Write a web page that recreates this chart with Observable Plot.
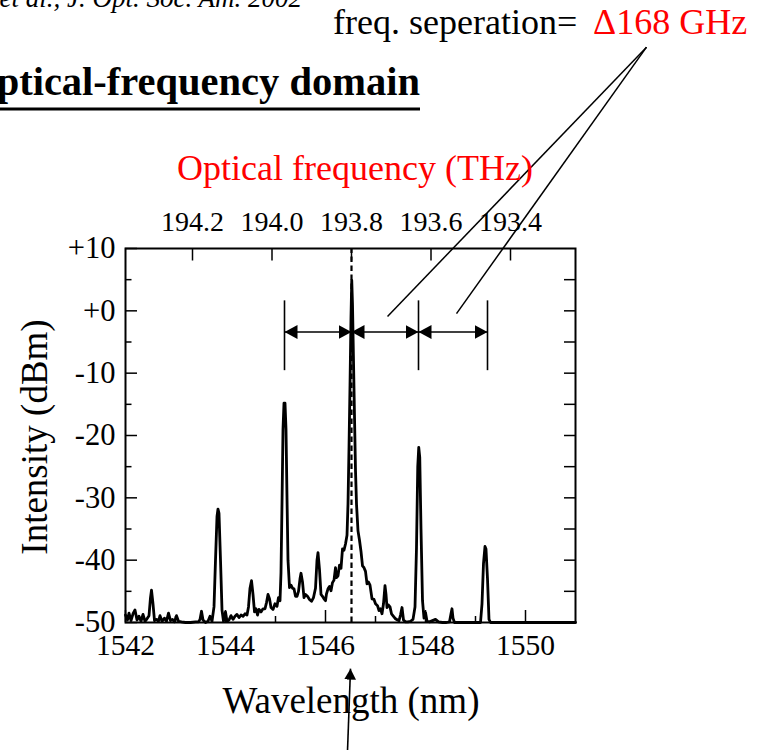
<!DOCTYPE html>
<html><head><meta charset="utf-8">
<script src="https://cdn.jsdelivr.net/npm/d3@7"></script>
<script src="https://cdn.jsdelivr.net/npm/@observablehq/plot@0.6"></script>
<style>body{margin:0;background:#fff;overflow:hidden}svg{display:block}</style>
</head><body><div id="chart"></div>
<script>
// Spectrum: wavelength (nm) and intensity (dBm)
const wavelength = [1542.00,1542.04,1542.07,1542.11,1542.15,1542.19,1542.23,1542.27,1542.31,1542.35,1542.39,1542.43,1542.47,1542.50,1542.52,1542.55,1542.58,1542.62,1542.66,1542.69,1542.73,1542.78,1542.82,1542.86,1542.90,1542.94,1542.98,1543.02,1543.06,1543.12,1543.20,1543.30,1543.40,1543.46,1543.49,1543.52,1543.55,1543.60,1543.65,1543.69,1543.73,1543.77,1543.80,1543.83,1543.85,1543.87,1543.90,1543.93,1543.96,1544.00,1544.03,1544.07,1544.11,1544.15,1544.19,1544.23,1544.27,1544.31,1544.35,1544.39,1544.43,1544.46,1544.49,1544.52,1544.55,1544.58,1544.61,1544.64,1544.67,1544.71,1544.75,1544.79,1544.82,1544.85,1544.88,1544.91,1544.95,1544.99,1545.03,1545.06,1545.09,1545.11,1545.13,1545.15,1545.17,1545.19,1545.21,1545.23,1545.25,1545.28,1545.31,1545.34,1545.37,1545.40,1545.43,1545.46,1545.49,1545.51,1545.54,1545.57,1545.60,1545.64,1545.68,1545.72,1545.76,1545.80,1545.83,1545.85,1545.88,1545.91,1545.94,1545.97,1546.00,1546.02,1546.05,1546.08,1546.11,1546.14,1546.17,1546.20,1546.22,1546.25,1546.28,1546.31,1546.34,1546.37,1546.40,1546.43,1546.45,1546.47,1546.49,1546.51,1546.525,1546.54,1546.56,1546.58,1546.60,1546.62,1546.65,1546.68,1546.71,1546.74,1546.77,1546.80,1546.83,1546.86,1546.89,1546.93,1546.97,1547.00,1547.04,1547.07,1547.10,1547.13,1547.16,1547.19,1547.21,1547.23,1547.26,1547.29,1547.32,1547.36,1547.40,1547.44,1547.47,1547.50,1547.53,1547.56,1547.60,1547.65,1547.70,1547.75,1547.79,1547.82,1547.845,1547.865,1547.885,1547.91,1547.94,1547.97,1548.00,1548.03,1548.08,1548.14,1548.20,1548.26,1548.34,1548.42,1548.48,1548.51,1548.53,1548.55,1548.58,1548.70,1548.85,1549.00,1549.10,1549.13,1549.16,1549.19,1549.21,1549.24,1549.27,1549.30,1549.60,1550.00,1550.50,1551.00];
const intensity = [-48.8,-49.6,-48.5,-49.7,-48.6,-48.0,-49.6,-49.0,-49.8,-48.7,-49.8,-49.4,-48.9,-46.0,-44.8,-47.0,-49.7,-49.5,-49.8,-48.9,-49.8,-49.3,-49.8,-48.5,-49.7,-49.5,-49.9,-48.9,-49.8,-49.9,-50,-50,-49.9,-49.9,-49.5,-48.2,-49.6,-50,-49.8,-49.0,-49.8,-47.5,-40.0,-33.0,-31.8,-32.5,-40.0,-48.0,-49.8,-48.3,-49.8,-49.6,-48.9,-49.5,-49.0,-48.7,-49.2,-48.8,-49.0,-48.6,-48.8,-47.5,-44.5,-43.3,-45.5,-48.3,-47.8,-48.8,-47.9,-48.3,-47.8,-47.8,-46.8,-45.5,-46.2,-47.6,-47.9,-47.0,-47.4,-46.0,-46.5,-42.0,-31.0,-19.0,-14.8,-14.8,-19.0,-30.0,-40.0,-44.4,-44.0,-44.5,-44.6,-45.8,-45.8,-45.0,-43.0,-42.1,-43.5,-46.0,-45.5,-45.8,-46.3,-46.6,-46.0,-44.5,-40.0,-38.8,-41.5,-45.5,-45.8,-46.2,-46.5,-45.4,-44.6,-44.2,-44.9,-43.6,-43.2,-41.2,-42.8,-42.5,-40.8,-41.3,-38.2,-38.4,-37.4,-36.0,-31.0,-22.0,-12.0,-1.0,4.9,1.0,-8.0,-17.0,-25.6,-31.0,-35.3,-36.8,-38.6,-40.9,-41.2,-41.8,-43.8,-43.5,-44.0,-46.2,-46.3,-47.0,-47.3,-48.1,-47.8,-48.6,-47.0,-44.1,-45.5,-47.6,-47.2,-47.5,-48.6,-49.0,-49.4,-49.6,-49.7,-48.8,-47.6,-49.6,-49.9,-49.9,-49.8,-49.5,-47.5,-38.0,-25.0,-21.9,-23.5,-35.0,-46.5,-49.3,-48.4,-49.8,-49.9,-49.7,-49.5,-49.9,-50,-50,-49.9,-48.6,-47.8,-49.3,-50,-50,-50,-50,-50,-47.0,-40.5,-37.8,-38.2,-43.0,-49.5,-50,-50,-50,-50,-50];

// Axes
const xTicksMajor = [1542, 1544, 1546, 1548, 1550];
const xTicksMinor = [1543, 1545, 1547, 1549];
const yTicksMajor = [-50, -40, -30, -20, -10, 0, 10];
const yTicksMinor = [-45, -35, -25, -15, -5, 5];
const yTicksRight = [-45, -40, -35, -30, -25, -20, -15, -10, -5, 0, 5];
const freqTicks = [194.2, 194.0, 193.8, 193.6, 193.4]; // THz (top axis)

// Channel markers (nm) and annotation geometry (data units)
const channelMarks = [1545.18, 1546.52, 1547.86, 1549.24];
const centerWavelength = 1546.52;
const arrowLevel = -3.4;
const barTop = 1.6, barBottom = -9.6;
const noteSource = {wl: 1552.42, db: 42.3};
const noteTargets = [{wl: 1547.24, db: -0.9}, {wl: 1548.62, db: -0.45}];
const pointerArrow = {wl1: 1546.44, db1: -70.6, wl2: 1546.50, db2: -57.4};

const freqToWl = f => centerWavelength + (193.8 - f) * 7.95;
const wlToFreq = w => 193.8 - (w - centerWavelength) / 7.95;

const spectrum = wavelength.map((w, i) => ({w, v: intensity[i]}));
const arrows = channelMarks.slice(0, -1).map((a, i) => ({a, b: channelMarks[i + 1]}));
const bars = channelMarks.filter(w => w !== centerWavelength);
const links = noteTargets.map(t => ({x1: t.wl, y1: t.db, x2: noteSource.wl, y2: noteSource.db}));

const serif = "'Liberation Serif', 'Times New Roman', serif";
const pxX = 50, pxY = 6.233; // px per data unit (used for tick lengths)

const plot = Plot.plot({
  width: 763, height: 750,
  marginLeft: 125, marginRight: 188, marginTop: 248, marginBottom: 128,
  style: {fontFamily: serif, fontSize: "29px", background: "white", overflow: "visible"},
  x: {domain: [1542, 1551], axis: null},
  y: {domain: [-50, 10], axis: null},
  marks: [
    // axis labels
    Plot.axisX(xTicksMajor, {anchor: "bottom", tickSize: 0, tickPadding: 12, fontSize: 29.5, label: null, tickFormat: d => String(d)}),
    Plot.axisX(freqTicks.map(freqToWl), {anchor: "top", tickSize: 0, tickPadding: 18, fontSize: 28, label: null, tickFormat: d => wlToFreq(d).toFixed(1)}),
    Plot.axisY(yTicksMajor, {anchor: "left", tickSize: 0, tickPadding: 10, fontSize: 30.5, label: null, tickFormat: d => d >= 0 ? "+" + d : String(d)}),
    // inward ticks
    Plot.ruleX(xTicksMajor, {y1: -50, y2: -50 + 12 / pxY, strokeWidth: 1.5}),
    Plot.ruleX(xTicksMinor, {y1: -50, y2: -50 + 6 / pxY, strokeWidth: 1.5}),
    Plot.ruleX(freqTicks.map(freqToWl), {y1: 10, y2: 10 - 12.5 / pxY, strokeWidth: 1.5}),
    Plot.ruleY(yTicksMajor, {x1: 1542, x2: 1542 + 12 / pxX, strokeWidth: 1.5}),
    Plot.ruleY(yTicksMinor, {x1: 1542, x2: 1542 + 6.5 / pxX, strokeWidth: 1.5}),
    Plot.ruleY(yTicksRight, {x1: 1551, x2: 1551 - 11 / pxX, strokeWidth: 1.5}),
    // spectrum
    Plot.line(spectrum, {x: "w", y: "v", stroke: "black", strokeWidth: 2.8, strokeLinejoin: "round"}),
    // dashed center line
    Plot.ruleX([centerWavelength], {y1: -50, y2: 10, stroke: "black", strokeWidth: 2.2, strokeDasharray: "5.5,3.5"}),
    // separation bars and arrows
    Plot.ruleX(bars, {y1: barTop, y2: barBottom, strokeWidth: 1.6}),
    Plot.link(arrows, {x1: "a", x2: "b", y1: arrowLevel, y2: arrowLevel, strokeWidth: 1.6, className: "sep-arrow"}),
    // annotation lines
    Plot.link(links, {x1: "x1", y1: "y1", x2: "x2", y2: "y2", strokeWidth: 1.5}),
    Plot.link([pointerArrow], {x1: "wl1", y1: "db1", x2: "wl2", y2: "db2", strokeWidth: 1.6, className: "ptr-arrow"}),
    Plot.frame({strokeWidth: 2})
  ]
});

document.getElementById("chart").appendChild(plot);
const svg = d3.select(plot);
const defs = svg.insert("defs", ":first-child");
function marker(id, w, h) {
  defs.append("marker").attr("id", id).attr("viewBox", "0 0 10 10").attr("refX", 10).attr("refY", 5)
    .attr("markerWidth", w).attr("markerHeight", h).attr("markerUnits", "userSpaceOnUse")
    .attr("preserveAspectRatio", "none").attr("orient", "auto-start-reverse")
    .append("path").attr("d", "M0,0L10,5L0,10Z").attr("fill", "black");
}
marker("ah", 13, 14);
marker("ah2", 11, 12);
svg.selectAll(".sep-arrow path").attr("marker-start", "url(#ah)").attr("marker-end", "url(#ah)");
svg.selectAll(".ptr-arrow path").attr("marker-end", "url(#ah2)");

// Non-data texts
const t = (x, y, txt, o = {}) => {
  const el = svg.append("text").attr("x", x).attr("y", y).text(txt)
    .attr("font-family", serif).attr("font-size", o.size || 36)
    .attr("fill", o.fill || "black").attr("text-anchor", o.anchor || "start");
  if (o.style) el.attr("font-style", o.style);
  if (o.weight) el.attr("font-weight", o.weight);
  if (o.transform) el.attr("transform", o.transform);
  return el;
};
t(302, 7, "et al., J. Opt. Soc. Am. 2002", {size: 27, style: "italic", anchor: "end"});
t(333, 34, "freq. seperation=", {size: 36});
t(593, 34, "\u0394168 GHz", {size: 36, fill: "red"});
t(420, 95, "Optical-frequency domain", {size: 40.5, weight: "bold", anchor: "end"});
svg.append("line").attr("x1", -5).attr("x2", 420).attr("y1", 109).attr("y2", 109).attr("stroke", "black").attr("stroke-width", 3);
t(355, 180, "Optical frequency (THz)", {size: 36, fill: "red", anchor: "middle"});
t(351, 713, "Wavelength (nm)", {size: 37, anchor: "middle"});
t(0, 0, "Intensity (dBm)", {size: 37, anchor: "middle", transform: "translate(47,437) rotate(-90)"});
</script></body></html>
